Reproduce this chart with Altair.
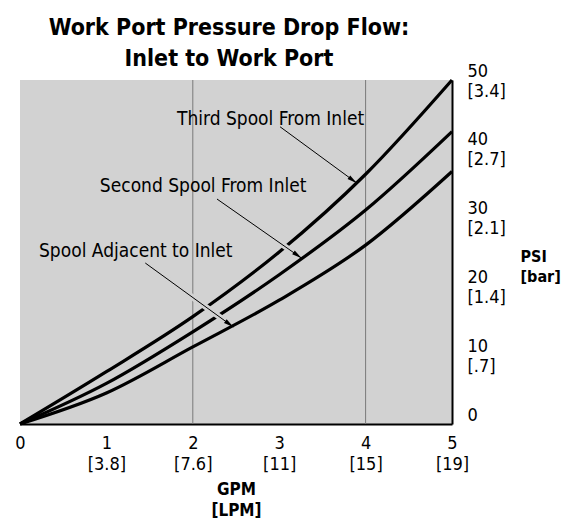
import math
import altair as alt
import pandas as pd

# ---------------- data ----------------
gpm = [0, 1, 2, 3, 4, 5]
third_spool = [0, 7.6, 15.6, 25.0, 36.3, 50.0]
second_spool = [0, 5.9, 13.4, 21.7, 31.1, 42.5]
adjacent_spool = [0, 4.5, 11.2, 18.0, 26.0, 36.7]
series_names = ["Third Spool From Inlet", "Second Spool From Inlet", "Spool Adjacent to Inlet"]

x_ticks = [0, 1, 2, 3, 4, 5]
x_tick_lpm = ["", "[3.8]", "[7.6]", "[11]", "[15]", "[19]"]
y_ticks = [0, 10, 20, 30, 40, 50]
y_tick_bar = ["", "[.7]", "[1.4]", "[2.1]", "[2.7]", "[3.4]"]
grid_x = [2, 4]

# annotation label anchor (data units) and arrows (start -> tip)
label_x = [2.90, 2.12, 1.34]
label_y = [43.5, 33.7, 24.3]
arrow_x1 = [3.01, 2.28, 1.45]
arrow_y1 = [43.2, 32.7, 23.4]
arrow_x2 = [3.90, 3.26, 2.47]
arrow_y2 = [35.0, 24.1, 14.1]

# ---------------- layout / style ----------------
W, H = 432, 344
BG = "#d2d2d2"
FONT = "'Liberation Sans Narrow', 'DejaVu Sans Condensed', 'Liberation Sans', sans-serif"

rows = []
for name, vals in zip(series_names, [third_spool, second_spool, adjacent_spool]):
    for g, p in zip(gpm, vals):
        rows.append({"series": name, "gpm": g, "psi": p})
lines_df = pd.DataFrame(rows)

def multiline_expr(vals, subs):
    expr = ""
    for v, s in zip(vals, subs):
        arr = f"['{v}', '{s}']" if s else f"'{v}'"
        expr += f"datum.value == {v} ? {arr} : "
    return expr + "''"

x_axis = alt.Axis(values=x_ticks, labelExpr=multiline_expr(x_ticks, x_tick_lpm),
                  ticks=False, grid=False, domainColor="black", domainWidth=2,
                  labelFont=FONT, labelFontSize=18, labelColor="black",
                  labelPadding=10, labelLineHeight=21, labelFlush=False, labelOverlap=False,
                  title=["GPM", "[LPM]"], titleFont=FONT, titleFontSize=17,
                  titleFontWeight="bold", titleLineHeight=21, titleColor="black",
                  titlePadding=8)
y_axis = alt.Axis(values=y_ticks, labelExpr=multiline_expr(y_ticks, y_tick_bar),
                  orient="right", ticks=False, grid=False, domainColor="black", domainWidth=2,
                  labelFont=FONT, labelFontSize=18, labelColor="black",
                  labelAlign="left", labelBaseline="middle", labelPadding=15,
                  labelOffset=-9, labelLineHeight=20, labelFlush=False, labelOverlap=False,
                  title=["PSI", "[bar]"], titleFont=FONT, titleFontSize=16,
                  titleFontWeight="bold", titleLineHeight=20, titleColor="black",
                  titleAngle=0, titleAlign="left", titleBaseline="middle",
                  titleX=68, titleY=176)

xs = alt.Scale(domain=[0, 5], nice=False)
ys = alt.Scale(domain=[0, 50], nice=False)

def X(f):
    return alt.X(f, type="quantitative", scale=xs, axis=x_axis)

def Y(f):
    return alt.Y(f, type="quantitative", scale=ys, axis=y_axis)

grid = alt.Chart(pd.DataFrame({"gx": grid_x})).mark_rule(
    color="#7a7a7a", strokeWidth=1).encode(x=X("gx"))

curves = alt.Chart(lines_df).mark_line(
    color="black", strokeWidth=3.2, interpolate="monotone").encode(
    x=X("gpm"), y=Y("psi"), detail="series:N")

# arrows
arr_rows = []
for i in range(3):
    dxp = (arrow_x2[i] - arrow_x1[i]) * W / 5
    dyd = (arrow_y2[i] - arrow_y1[i]) * H / 50
    ang = math.degrees(math.atan2(dxp, dyd)) % 360
    f = 0.86
    arr_rows.append({
        "x1": arrow_x1[i], "y1": arrow_y1[i], "x2": arrow_x2[i], "y2": arrow_y2[i],
        "hx": arrow_x1[i] + f * (arrow_x2[i] - arrow_x1[i]),
        "hy": arrow_y1[i] + f * (arrow_y2[i] - arrow_y1[i]),
        "angle": ang,
    })
arr_df = pd.DataFrame(arr_rows)

halo = alt.Chart(arr_df).mark_rule(color=BG, strokeWidth=6).encode(
    x=X("x1"), y=Y("y1"), x2="hx", y2="hy")
arrow = alt.Chart(arr_df).mark_rule(color="black", strokeWidth=1).encode(
    x=X("x1"), y=Y("y1"), x2="x2", y2="y2")
heads = alt.Chart(arr_df).mark_point(
    shape="M0,0L0.45,2L-0.45,2Z", filled=True, color="black", opacity=1, size=100,
    strokeWidth=0).encode(x=X("x2"), y=Y("y2"), angle=alt.Angle("angle:Q", scale=None))

labels_df = pd.DataFrame({"label": series_names, "lx": label_x, "ly": label_y})
labels = alt.Chart(labels_df).mark_text(
    font=FONT, fontSize=19, color="black", align="center", baseline="alphabetic").encode(
    x=X("lx"), y=Y("ly"), text="label:N")

chart = alt.layer(grid, curves, halo, arrow, heads, labels).properties(
    width=W, height=H,
    title=alt.TitleParams(text=["Work Port Pressure Drop Flow:", "Inlet to Work Port"],
                          font=FONT, fontSize=23, fontWeight="bold", anchor="middle",
                          lineHeight=31, offset=0, dx=-7, dy=9, color="black"),
    autosize=alt.AutoSizeParams(type="none"),
    padding={"left": 12, "top": 72, "right": 110, "bottom": 105},
).configure_view(fill=BG, stroke=None)

chart.save("out.html", embed_options={"renderer": "svg", "actions": False})
